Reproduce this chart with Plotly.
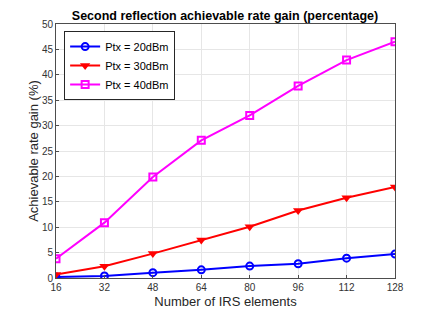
import plotly.graph_objects as go

irs_elements = [16, 32, 48, 64, 80, 96, 112, 128]
gain_20dbm = [0.2, 0.4, 1.05, 1.6, 2.35, 2.8, 3.9, 4.7]
gain_30dbm = [0.7, 2.3, 4.8, 7.5, 10.1, 13.3, 15.8, 17.9]
gain_40dbm = [3.8, 10.9, 19.9, 27.1, 32.0, 37.8, 42.9, 46.5]
series_names = ["Ptx = 20dBm", "Ptx = 30dBm", "Ptx = 40dBm"]
x_ticks = [16, 32, 48, 64, 80, 96, 112, 128]
y_ticks = [0, 5, 10, 15, 20, 25, 30, 35, 40, 45, 50]

fig = go.Figure()
fig.add_trace(go.Scatter(x=irs_elements, y=gain_20dbm, name=series_names[0], mode="lines+markers",
                         line=dict(color="#0000ff", width=2),
                         marker=dict(symbol="circle-open", size=7, color="#0000ff", line=dict(width=2))))
fig.add_trace(go.Scatter(x=irs_elements, y=gain_30dbm, name=series_names[1], mode="lines+markers",
                         line=dict(color="#ff0000", width=2),
                         marker=dict(symbol="triangle-down", size=9, color="#ff0000")))
fig.add_trace(go.Scatter(x=irs_elements, y=gain_40dbm, name=series_names[2], mode="lines+markers",
                         line=dict(color="#ff00ff", width=2),
                         marker=dict(symbol="square-open", size=7, color="#ff00ff", line=dict(width=2))))

axis_common = dict(showline=True, linecolor="#4d4d4d", linewidth=1, mirror=True,
                   showgrid=True, gridcolor="#e6e6e6", gridwidth=1, zeroline=False,
                   ticks="inside", ticklen=3, tickcolor="#4d4d4d", automargin=False,
                   tickfont=dict(family="Liberation Sans, Arial, sans-serif", size=10, color="#333333"))

# page body has an 8px default margin, so the figure is sized to fit inside the window
fig.update_layout(
    width=428, height=304,
    margin=dict(l=48, r=41, t=16, b=34),
    paper_bgcolor="white", plot_bgcolor="white",
    title=dict(text="<b>Second reflection achievable rate gain (percentage)</b>",
               x=0.507, xanchor="center", y=0.975, yanchor="middle", automargin=False,
               font=dict(family="Liberation Sans, Arial, sans-serif", size=12.5, color="black")),
    xaxis=dict(range=[16, 128], tickvals=x_ticks,
               title=dict(text="Number of IRS elements", standoff=4,
                          font=dict(family="Liberation Sans, Arial, sans-serif", size=13, color="#262626")),
               **axis_common),
    yaxis=dict(range=[0, 50], tickvals=y_ticks,
               title=dict(text="Achievable rate gain (%)", standoff=0,
                          font=dict(family="Liberation Sans, Arial, sans-serif", size=13, color="#262626")),
               **axis_common),
    legend=dict(x=0.024, y=0.972, xanchor="left", yanchor="top",
                bgcolor="white", bordercolor="#262626", borderwidth=1,
                font=dict(family="Liberation Sans, Arial, sans-serif", size=11, color="black"),
                tracegroupgap=0, itemwidth=30),
    showlegend=True,
)

fig.write_html("out.html")
